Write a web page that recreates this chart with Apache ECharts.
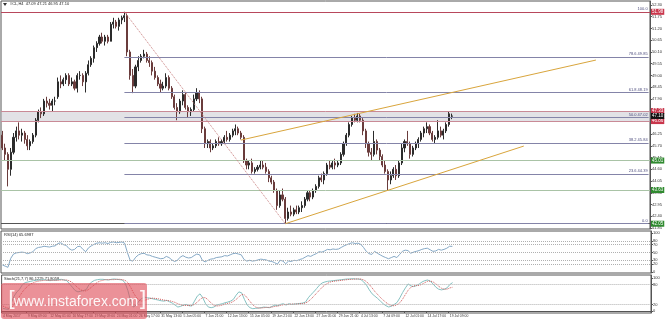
<!DOCTYPE html>
<html><head><meta charset="utf-8">
<script src="https://cdn.jsdelivr.net/npm/echarts@6/dist/echarts.min.js"></script>
<style>html,body{margin:0;padding:0;background:#fff}#c{width:665px;height:321px}</style>
</head><body><div id="c"></div>
<script>
// ---------- DATA ----------
const symbolTitle = '#CL,H4  47.09 47.21 46.95 47.10';
const rsiTitle = 'RSI(14) 65.6987';
const stochTitle = 'Stoch(21,7,7) 86.1229 71.8058';
const watermark = 'www.instaforex.com';

const tickBars = [0,9,17,25,33,41,49,57,65,73,81,89,97,105,113,121,129,137,145,153,161];
const tickLabels = ['4 May 2017','9 May 09:00','12 May 01:00','16 May 17:00','19 May 09:00','24 May 01:00','26 May 17:00','31 May 13:00','5 Jun 05:00','7 Jun 21:00','12 Jun 13:00','15 Jun 05:00','19 Jun 21:00','22 Jun 13:00','27 Jun 05:00','29 Jun 21:00','4 Jul 13:00','7 Jul 09:00','12 Jul 01:00','14 Jul 17:00','19 Jul 09:00'];
const slotCount = 234;

const priceTicks = [52.30,51.75,51.20,50.65,50.10,49.55,49.00,48.45,47.90,47.35,46.80,46.25,45.70,45.15,44.60,44.05,43.50,42.95,42.40,41.85];
const rsiTicks = [100,80,70,50,30,20,0];
const rsiLevels = [80,70,50,30,20];
const stochTicks = [100,80,20,0];
const stochLevels = [80,20];

// [open, high, low, close]
const ohlc = [
[46.2,46.4,45.5,45.6],[45.6,45.8,45.0,45.3],[45.3,45.4,43.8,44.6],[44.6,45.6,44.3,45.4],[45.4,46.3,45.3,46.1],
[46.1,46.6,45.9,46.4],[46.4,46.8,46.0,46.2],[46.2,46.5,45.9,46.3],[46.3,46.4,45.8,46.0],[46.0,46.2,45.5,45.7],
[45.7,46.0,45.5,45.9],[45.9,46.3,45.8,46.2],[46.2,47.0,46.1,46.9],[46.9,47.4,46.8,47.3],[47.3,47.5,47.0,47.2],
[47.2,47.9,47.1,47.8],[47.8,48.0,47.5,47.7],[47.7,47.9,47.4,47.6],[47.6,47.9,47.3,47.8],[47.8,48.0,47.6,47.8],
[48.0,48.9,47.9,48.7],[48.7,49.0,48.4,48.6],[48.6,48.9,48.5,48.8],[48.8,49.1,48.6,49.0],[49.0,49.1,48.5,48.6],
[48.6,48.9,48.5,48.7],[48.7,48.8,48.3,48.4],[48.4,49.1,48.2,49.0],[49.0,49.2,48.8,49.0],[49.0,49.1,48.5,48.7],
[48.7,49.2,48.2,49.1],[49.1,49.7,49.0,49.5],[49.5,49.9,49.4,49.8],[49.8,50.4,49.6,50.3],[50.3,50.6,50.1,50.5],
[50.5,50.9,50.4,50.8],[50.8,51.0,50.5,50.6],[50.6,50.9,50.4,50.8],[50.8,50.9,50.5,50.6],[50.6,51.5,50.6,51.4],
[51.4,51.7,51.2,51.5],[51.5,51.6,51.2,51.3],[51.3,51.7,51.1,51.6],[51.6,51.8,51.4,51.7],[51.7,51.98,51.5,51.8],
[51.8,51.9,49.9,50.1],[50.1,50.2,48.8,49.0],[49.0,49.3,48.17,48.5],[48.5,49.5,48.4,49.4],[49.4,49.9,49.2,49.7],
[49.7,50.0,49.6,49.9],[49.9,50.2,49.8,50.0],[50.0,50.1,49.6,49.7],[49.7,49.9,49.4,49.6],[49.6,49.7,49.0,49.2],
[49.2,49.4,48.8,48.9],[48.9,49.0,48.5,48.6],[48.6,48.8,48.2,48.4],[48.4,48.7,48.3,48.5],[48.5,49.1,48.4,48.9],
[48.9,49.0,48.3,48.4],[48.4,48.5,47.9,48.0],[48.0,48.1,47.4,47.5],[47.5,47.7,46.9,47.3],[47.3,47.9,47.2,47.8],
[47.8,48.3,47.6,48.1],[48.1,48.2,47.4,47.5],[47.5,47.6,47.05,47.3],[47.3,47.5,47.1,47.4],[47.4,48.1,47.3,47.9],
[47.9,48.4,47.8,48.2],[48.2,48.3,47.7,47.9],[47.9,48.0,46.3,46.5],[46.5,46.6,45.6,45.8],[45.8,46.0,45.6,45.9],
[45.9,46.0,45.4,45.6],[45.6,45.8,45.5,45.7],[45.7,46.0,45.6,45.9],[45.9,46.1,45.7,45.8],[45.8,46.0,45.7,45.9],
[45.9,46.2,45.8,46.1],[46.1,46.4,45.9,46.0],[46.0,46.3,45.9,46.2],[46.2,46.5,46.1,46.4],[46.4,46.7,46.2,46.5],
[46.5,46.6,46.2,46.3],[46.3,46.4,46.0,46.1],[46.1,46.2,44.9,45.0],[45.0,45.1,44.6,44.8],[44.8,45.0,44.6,44.9],
[44.9,45.1,44.4,44.5],[44.5,44.7,44.4,44.6],[44.6,44.8,44.5,44.7],[44.7,45.0,44.6,44.8],[44.8,45.0,44.6,44.7],
[44.7,44.9,44.4,44.5],[44.5,44.6,44.0,44.2],[44.2,44.3,43.9,44.0],[44.0,44.1,43.5,43.6],[43.6,43.7,42.7,42.9],
[42.9,43.6,42.8,43.4],[43.4,43.7,43.1,43.2],[43.2,43.3,42.05,42.3],[42.3,42.8,42.2,42.6],[42.6,42.9,42.4,42.5],
[42.5,42.8,42.4,42.7],[42.7,42.9,42.5,42.6],[42.6,42.9,42.5,42.8],[42.8,43.1,42.6,42.9],[42.9,43.3,42.8,43.2],
[43.2,43.6,43.1,43.5],[43.5,43.6,43.1,43.3],[43.3,43.7,43.2,43.6],[43.6,43.9,43.5,43.8],[43.8,44.3,43.7,44.2],
[44.2,44.4,44.0,44.1],[44.1,44.5,43.9,44.4],[44.4,44.9,44.3,44.8],[44.8,45.0,44.6,44.7],[44.7,45.0,44.6,44.9],
[44.9,45.1,44.6,44.8],[44.8,45.0,44.7,44.9],[44.9,45.4,44.8,45.3],[45.3,45.9,45.2,45.8],[45.8,46.3,45.7,46.2],
[46.2,46.8,46.1,46.7],[46.7,47.1,46.6,47.0],[47.0,47.2,46.8,46.9],[46.9,47.24,46.8,47.1],[47.1,47.2,46.8,46.9],
[46.9,47.0,46.2,46.4],[46.4,46.5,45.6,45.8],[45.8,45.9,45.2,45.4],[45.4,45.6,45.0,45.3],[45.3,46.4,45.2,45.9],
[45.9,46.0,45.3,45.5],[45.5,45.6,45.0,45.2],[45.2,45.3,44.7,44.8],[44.8,45.0,44.4,44.5],[44.5,44.6,43.63,44.1],
[44.1,44.5,43.9,44.3],[44.3,44.7,44.2,44.6],[44.6,44.8,44.1,44.3],[44.3,45.0,44.2,44.9],[44.9,45.8,44.8,45.6],
[45.6,46.0,45.4,45.9],[45.9,46.4,45.7,45.8],[45.8,45.9,45.1,45.3],[45.3,45.7,45.2,45.6],[45.6,45.9,45.5,45.8],
[45.8,46.1,45.6,46.0],[46.0,46.4,45.9,46.3],[46.3,46.6,46.1,46.5],[46.5,46.8,46.3,46.6],[46.6,46.7,46.2,46.3],
[46.3,46.4,45.9,46.0],[46.0,46.2,45.8,46.1],[46.1,46.9,46.0,46.4],[46.4,46.6,46.1,46.2],[46.2,46.5,46.0,46.4],
[46.4,46.8,46.3,46.7],[46.7,47.3,46.6,47.2],[47.09,47.21,46.95,47.10]
];

const rsi = [
18,15,12,35,46,49,50,51,50,47,49,52,60,63,64,66,65,64,66,67,
73,75,70,68,60,56,58,65,66,58,52,62,67,71,74,75,74,75,73,76,
77,75,76,77,74,50,30,28,38,44,47,48,44,43,40,38,36,34,35,40,
37,31,27,30,38,42,38,36,37,42,46,44,30,26,30,33,34,37,38,39,
42,41,44,47,48,46,44,32,28,30,28,29,31,33,32,31,28,27,24,20,
30,28,21,28,27,30,29,32,34,38,42,40,44,47,52,51,54,58,57,59,
58,59,63,67,70,73,75,73,74,71,63,53,47,45,53,48,44,40,37,34,
37,40,37,45,53,56,55,48,51,53,55,58,60,61,57,53,54,58,56,58,
61,66,65.7
];

const stochK = [
8,6,5,25,45,58,66,80,86,88,90,92,93,94,94,95,93,92,94,93,
95,96,94,92,82,72,62,58,60,62,65,80,88,93,95,96,96,95,94,96,
97,96,95,94,85,62,30,12,18,30,38,42,40,39,37,35,33,31,30,32,
28,24,18,12,14,18,20,16,15,30,45,52,40,22,12,10,12,18,20,22,
25,27,30,35,48,58,55,35,18,10,7,8,9,10,12,11,10,14,18,16,
20,22,18,22,20,21,22,23,24,27,40,50,58,68,78,85,88,90,91,92,
93,94,95,96,97,97,98,97,97,95,88,78,64,52,45,38,30,22,16,12,
15,20,26,40,56,70,82,76,74,77,82,88,92,94,90,82,72,66,64,66,
70,80,86.1
];

const stochD = [
15,11,8,10,20,32,45,58,68,76,82,86,89,91,92,93,93,93,93,93,
93,94,94,94,91,86,78,70,64,61,61,66,73,80,87,91,93,95,95,95,
95,96,96,95,93,86,72,55,42,33,30,32,35,38,39,38,37,35,33,32,
31,29,26,22,19,17,17,17,17,20,27,35,41,40,33,24,17,15,16,18,
21,23,25,29,35,43,50,49,40,29,19,12,9,9,10,11,11,12,14,15,
17,19,20,20,21,21,21,22,23,24,29,36,45,54,63,72,79,84,88,90,
91,92,93,94,95,96,96,97,97,97,94,89,80,70,59,50,41,33,26,20,
16,16,19,25,36,50,63,72,76,77,78,81,86,90,91,88,82,75,69,66,
66,70,71.8
];

const topLinePrice = 51.98;
const bandTop = 47.33, bandBottom = 46.86;
const lastPrice = 47.10;
const greenLevels = [45.01, 43.63, 42.05];
const fibStartBar = 44, fibEndBar = 102;
const fibRatios = ['100.0','78.6','61.8','50.0','38.2','23.6','0.0'];
const fibPrices = [51.98, 49.85, 48.19, 47.02, 45.84, 44.39, 42.05];
const channelLower = [[102, 42.05], [188, 45.69]];
const channelUpper = [[86, 45.97], [214, 49.72]];

// ---------- CHART ----------
const chart = echarts.init(document.getElementById('c'));
const cats = new Array(slotCount).fill('');
tickBars.forEach((b, i) => { cats[b] = tickLabels[i]; });
const candleData = ohlc.map(r => [r[0], r[3], r[2], r[1]]);
const FONT = 'Liberation Sans';
const tagLabel = (txt, bg) => ({show: true, position: 'end', distance: 1, formatter: txt,
  backgroundColor: bg, color: '#fff', fontSize: 4.5, fontFamily: FONT, padding: [1, 1, 0, 1]});

const ml = [];
ml.push({yAxis: topLinePrice, lineStyle: {color: '#b8485c', width: 1, type: 'solid'}, label: tagLabel(topLinePrice.toFixed(2), '#c9364c')});
ml.push({yAxis: bandTop, lineStyle: {color: '#c98a96', width: 1, type: 'solid'}, label: tagLabel(bandTop.toFixed(2), '#c9364c')});
ml.push({yAxis: bandBottom, lineStyle: {color: '#c98a96', width: 1, type: 'solid'}, label: tagLabel(bandBottom.toFixed(2), '#c9364c')});
greenLevels.forEach(v => ml.push({yAxis: v, lineStyle: {color: v === 42.05 ? '#555' : '#a9c3a6', width: 1, type: 'solid'}, label: tagLabel(v.toFixed(2), '#2f8a2f')}));
fibPrices.forEach((p, i) => {
  ml.push([
    {coord: [fibStartBar, p], lineStyle: {color: i === 0 ? '#b8485c' : '#8484a8', width: 1, type: 'solid'},
     label: {show: true, position: 'insideEndTop', distance: 1, formatter: i === 0 || i === 6 ? fibRatios[i] : fibRatios[i] + ' ' + p.toFixed(2),
       color: '#4b4b7c', fontSize: 4, fontFamily: FONT}},
    {coord: [slotCount - 1, p]}
  ]);
});
ml.push([{coord: [fibStartBar, fibPrices[0]], lineStyle: {color: '#c98080', width: 1, type: 'dotted'}, label: {show: false}}, {coord: [fibEndBar, fibPrices[6]]}]);
ml.push([{coord: channelLower[0], lineStyle: {color: '#d9a53c', width: 1, type: 'solid'}, label: {show: false}}, {coord: channelLower[1]}]);
ml.push([{coord: channelUpper[0], lineStyle: {color: '#d9a53c', width: 1, type: 'solid'}, label: {show: false}}, {coord: channelUpper[1]}]);
ml.push({yAxis: lastPrice, lineStyle: {color: 'rgba(0,0,0,0)', width: 0}, label: tagLabel(lastPrice.toFixed(2), '#111')});

const axisLabelCommon = {fontSize: 4, color: '#333', fontFamily: FONT, margin: 2};
const showTick = (i, v) => v !== '';

chart.setOption({
  animation: false,
  backgroundColor: '#fff',
  grid: [
    {left: 1, right: 14, top: 1, height: 228, show: true, borderColor: '#555', borderWidth: 1},
    {left: 1, right: 14, top: 231, height: 42, show: true, borderColor: '#555', borderWidth: 1},
    {left: 1, right: 14, top: 275, height: 38, show: true, borderColor: '#555', borderWidth: 1}
  ],
  xAxis: [
    {type: 'category', gridIndex: 0, data: cats, boundaryGap: true, axisLine: {show: false}, axisTick: {show: false}, axisLabel: {show: false}},
    {type: 'category', gridIndex: 1, data: cats, boundaryGap: true, axisLine: {show: false}, axisTick: {show: false}, axisLabel: {show: false}},
    {type: 'category', gridIndex: 2, data: cats, boundaryGap: true,
      axisLine: {show: true, lineStyle: {color: '#555'}},
      axisTick: {show: true, interval: showTick, length: 2, lineStyle: {color: '#555'}},
      axisLabel: {show: true, interval: showTick, align: 'left', fontSize: 3.4, color: '#333', fontFamily: FONT, margin: 2}}
  ],
  yAxis: [
    {type: 'value', gridIndex: 0, position: 'right', min: 41.803, max: 52.487,
      axisLine: {show: true, lineStyle: {color: '#555'}}, axisTick: {show: true, length: 2, customValues: priceTicks},
      axisLabel: Object.assign({customValues: priceTicks, formatter: v => v.toFixed(2)}, axisLabelCommon), splitLine: {show: false}},
    {type: 'value', gridIndex: 1, position: 'right', min: -2.56, max: 105.13,
      axisLine: {show: true, lineStyle: {color: '#555'}}, axisTick: {show: true, length: 2, customValues: rsiTicks},
      axisLabel: Object.assign({customValues: rsiTicks}, axisLabelCommon), splitLine: {show: false}},
    {type: 'value', gridIndex: 2, position: 'right', min: -6.06, max: 109.1,
      axisLine: {show: true, lineStyle: {color: '#555'}}, axisTick: {show: true, length: 2, customValues: stochTicks},
      axisLabel: Object.assign({customValues: stochTicks}, axisLabelCommon), splitLine: {show: false}}
  ],
  series: [
    {type: 'candlestick', xAxisIndex: 0, yAxisIndex: 0, data: candleData, barWidth: 1.6,
      itemStyle: {color: '#2b2b2b', color0: '#6a3c3c', borderColor: '#2b2b2b', borderColor0: '#6a3c3c', borderWidth: 1},
      markArea: {silent: true, itemStyle: {color: 'rgba(190,190,200,0.45)'}, data: [[{yAxis: bandTop}, {yAxis: bandBottom}]]},
      markLine: {silent: true, symbol: 'none', animation: false, label: {show: false}, data: ml}, z: 3},
    {type: 'line', xAxisIndex: 1, yAxisIndex: 1, data: rsi, showSymbol: false, lineStyle: {color: '#86a9c6', width: 1},
      markLine: {silent: true, symbol: 'none', label: {show: false}, lineStyle: {color: '#b0b0b0', type: 'dotted', width: 1},
        data: rsiLevels.map(v => ({yAxis: v}))}},
    {type: 'line', xAxisIndex: 2, yAxisIndex: 2, data: stochK, showSymbol: false, lineStyle: {color: '#86c2c2', width: 1},
      markLine: {silent: true, symbol: 'none', label: {show: false}, lineStyle: {color: '#b0b0b0', type: 'dotted', width: 1},
        data: stochLevels.map(v => ({yAxis: v}))}},
    {type: 'line', xAxisIndex: 2, yAxisIndex: 2, data: stochD, showSymbol: false, lineStyle: {color: '#d05a5a', width: 1, type: 'dotted'}}
  ],
  graphic: [
    {type: 'polygon', shape: {points: [[3, 3], [7, 3], [5, 6]]}, style: {fill: '#333'}},
    {type: 'text', left: 10, top: 2, style: {text: symbolTitle, fontSize: 4, fill: '#222', fontFamily: FONT}},
    {type: 'text', left: 4, top: 233, style: {text: rsiTitle, fontSize: 4, fill: '#222', fontFamily: FONT}},
    {type: 'text', left: 4, top: 277, style: {text: stochTitle, fontSize: 4, fill: '#222', fontFamily: FONT}},
    {type: 'rect', shape: {x: 1, y: 283, width: 146, height: 36, r: 3}, style: {fill: 'rgba(222,72,84,0.6)'}, z: 100},
    {type: 'text', x: 8, y: 300, style: {text: '[', fontSize: 22, fill: 'rgba(255,255,255,0.9)', fontFamily: 'DejaVu Sans', verticalAlign: 'middle'}, z: 101},
    {type: 'text', x: 138, y: 300, style: {text: ']', fontSize: 22, fill: 'rgba(255,255,255,0.9)', fontFamily: 'DejaVu Sans', verticalAlign: 'middle'}, z: 101},
    {type: 'text', x: 76, y: 302, style: {text: watermark, fontSize: 14, fill: 'rgba(255,255,255,0.92)', fontFamily: 'Liberation Sans', align: 'center', verticalAlign: 'middle'}, z: 101}
  ]
});
</script></body></html>
